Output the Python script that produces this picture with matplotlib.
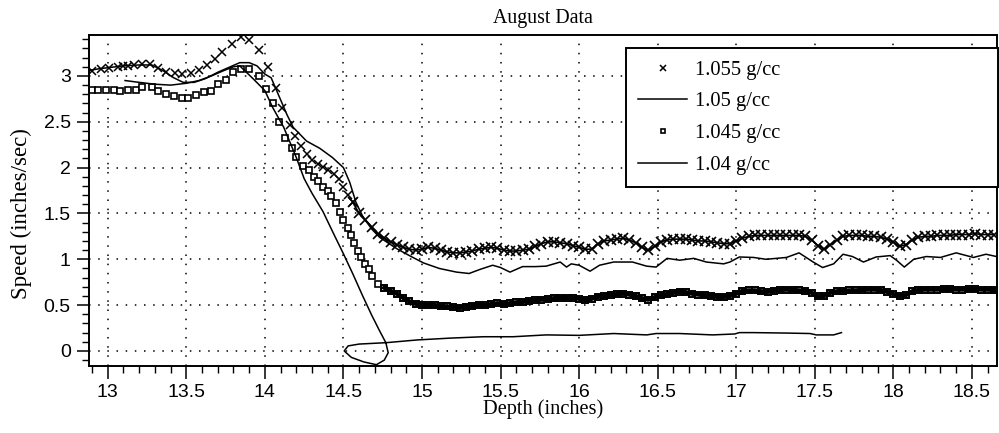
import matplotlib

matplotlib.use("Agg")
import matplotlib.pyplot as plt
from matplotlib.ticker import MultipleLocator

# 1.055 g/cc (x markers): sparse early part, then dense plateau
d1055_a = [12.90, 12.955, 13.01, 13.066, 13.10, 13.13, 13.17, 13.22, 13.27, 13.32,
           13.37, 13.43, 13.475, 13.53, 13.58, 13.63, 13.68, 13.73, 13.79, 13.85,
           13.90, 13.96, 14.02, 14.07, 14.11, 14.16, 14.19, 14.23, 14.27, 14.30,
           14.34, 14.37, 14.40, 14.44, 14.47, 14.50, 14.53, 14.56]
s1055_a = [3.05, 3.08, 3.09, 3.10, 3.11, 3.11, 3.12, 3.13, 3.13, 3.09,
           3.04, 3.03, 3.02, 3.03, 3.07, 3.12, 3.18, 3.26, 3.35, 3.42,
           3.39, 3.28, 3.10, 2.87, 2.645, 2.46, 2.35, 2.24, 2.15, 2.08,
           2.04, 2.01, 1.975, 1.93, 1.88, 1.79, 1.70, 1.62]
d1055_b = [14.56, 14.60, 14.64, 14.68, 14.72, 14.76, 14.80, 14.84, 14.88, 14.92, 14.96,
           15.00, 15.04, 15.08, 15.12, 15.16, 15.20, 15.24, 15.28, 15.32, 15.36,
           15.40, 15.44, 15.48, 15.52, 15.56, 15.60, 15.64, 15.68, 15.72, 15.76,
           15.80, 15.84, 15.88, 15.92, 15.96, 16.00, 16.04, 16.08, 16.12, 16.16,
           16.20, 16.24, 16.28, 16.32, 16.36, 16.40, 16.44, 16.48, 16.52, 16.56,
           16.60, 16.64, 16.68, 16.72, 16.76, 16.80, 16.84, 16.88, 16.92, 16.96,
           17.00, 17.04, 17.08, 17.12, 17.16, 17.20, 17.24, 17.28, 17.32, 17.36,
           17.40, 17.44, 17.48, 17.52, 17.56, 17.60, 17.64, 17.68, 17.72, 17.76,
           17.80, 17.84, 17.88, 17.92, 17.96, 18.00, 18.04, 18.08, 18.12, 18.16,
           18.20, 18.24, 18.28, 18.32, 18.36, 18.40, 18.44, 18.48, 18.52, 18.56,
           18.60, 18.64]
s1055_b = [1.62, 1.50, 1.43, 1.35, 1.28, 1.23, 1.19, 1.16, 1.13, 1.11, 1.10,
           1.11, 1.13, 1.12, 1.10, 1.08, 1.07, 1.07, 1.08, 1.09, 1.11,
           1.12, 1.13, 1.12, 1.10, 1.09, 1.09, 1.10, 1.11, 1.14, 1.17,
           1.19, 1.19, 1.18, 1.17, 1.15, 1.13, 1.11, 1.11, 1.17, 1.20,
           1.21, 1.22, 1.23, 1.21, 1.18, 1.13, 1.10, 1.14, 1.19, 1.21,
           1.22, 1.22, 1.22, 1.21, 1.20, 1.20, 1.19, 1.18, 1.17, 1.17,
           1.20, 1.23, 1.25, 1.26, 1.26, 1.26, 1.26, 1.26, 1.26, 1.26,
           1.26, 1.25, 1.21, 1.15, 1.11, 1.16, 1.21, 1.25, 1.26, 1.26,
           1.26, 1.25, 1.25, 1.24, 1.22, 1.19, 1.14, 1.16, 1.21, 1.24,
           1.25, 1.25, 1.26, 1.26, 1.26, 1.27, 1.27, 1.27, 1.28, 1.27,
           1.27, 1.27]

# 1.05 g/cc (solid line)
d1050 = [12.88, 12.95, 13.00, 13.10, 13.20, 13.28, 13.35, 13.42, 13.48, 13.55,
         13.62, 13.70, 13.78, 13.84, 13.90, 13.95, 14.00, 14.04, 14.095, 14.14,
         14.18, 14.265, 14.35, 14.43, 14.50, 14.54, 14.58, 14.625, 14.68, 14.73,
         14.84, 14.92, 15.01, 15.11, 15.22, 15.30, 15.37, 15.45, 15.50, 15.56,
         15.64, 15.72, 15.79, 15.88, 15.92, 15.95, 16.00, 16.07, 16.13, 16.22,
         16.34, 16.43, 16.49, 16.56, 16.64, 16.73, 16.81, 16.92, 16.96, 17.02,
         17.11, 17.19, 17.32, 17.40, 17.49, 17.55, 17.62, 17.68, 17.74, 17.81,
         17.89, 17.98, 18.02, 18.07, 18.13, 18.21, 18.30, 18.40, 18.51, 18.59,
         18.67]
s1050 = [3.06, 3.08, 3.09, 3.11, 3.12, 3.12, 3.06, 2.98, 2.93, 2.93,
         2.97, 3.04, 3.10, 3.145, 3.145, 3.11, 3.02, 2.98, 2.76, 2.58,
         2.44, 2.29, 2.21, 2.11, 2.00, 1.84, 1.62, 1.46, 1.33, 1.24,
         1.115, 1.04, 0.96, 0.90, 0.86, 0.845, 0.89, 0.935, 0.91, 0.86,
         0.92, 0.92, 0.925, 0.97, 0.915, 0.95, 0.935, 0.87, 0.935, 0.97,
         0.97, 0.925, 0.915, 1.01, 0.99, 1.01, 0.97, 0.95, 0.97, 1.025,
         1.02, 1.00, 1.02, 1.07, 0.97, 0.91, 0.95, 1.055, 1.03, 0.97,
         1.025, 1.04, 0.99, 0.915, 1.00, 1.03, 1.02, 1.07, 1.02, 1.055,
         1.025]

# 1.045 g/cc (square markers): sparse early part, then dense plateau
d1045_a = [12.90, 12.94, 12.99, 13.04, 13.08, 13.13, 13.18, 13.22, 13.28, 13.32,
           13.37, 13.42, 13.47, 13.51, 13.56, 13.61, 13.66, 13.70, 13.75, 13.80,
           13.85, 13.90, 13.96, 14.01, 14.05, 14.09, 14.13, 14.17, 14.20, 14.24,
           14.28, 14.31, 14.34, 14.37, 14.40, 14.42, 14.45, 14.48, 14.50, 14.53,
           14.55, 14.57, 14.59, 14.61, 14.64, 14.66, 14.685, 14.72]
s1045_a = [2.845, 2.845, 2.845, 2.845, 2.84, 2.845, 2.85, 2.88, 2.88, 2.84,
           2.80, 2.78, 2.755, 2.755, 2.79, 2.82, 2.84, 2.91, 2.96, 3.04,
           3.08, 3.08, 3.00, 2.855, 2.70, 2.50, 2.32, 2.21, 2.12, 2.02,
           1.97, 1.90, 1.85, 1.79, 1.74, 1.685, 1.61, 1.52, 1.43, 1.34,
           1.26, 1.18, 1.09, 1.02, 0.945, 0.89, 0.815, 0.735]
d1045_b = [14.76, 14.80, 14.84, 14.88, 14.92, 14.96, 15.00, 15.04, 15.08, 15.12,
           15.16, 15.20, 15.24, 15.28, 15.32, 15.36, 15.40, 15.44, 15.48, 15.52,
           15.56, 15.60, 15.64, 15.68, 15.72, 15.76, 15.80, 15.84, 15.88, 15.92,
           15.96, 16.00, 16.04, 16.08, 16.12, 16.16, 16.20, 16.24, 16.28, 16.32,
           16.36, 16.40, 16.44, 16.48, 16.52, 16.56, 16.60, 16.64, 16.68, 16.72,
           16.76, 16.80, 16.84, 16.88, 16.92, 16.96, 17.00, 17.04, 17.08, 17.12,
           17.16, 17.20, 17.24, 17.28, 17.32, 17.36, 17.40, 17.44, 17.48, 17.52,
           17.56, 17.60, 17.64, 17.68, 17.72, 17.76, 17.80, 17.84, 17.88, 17.92,
           17.96, 18.00, 18.04, 18.08, 18.12, 18.16, 18.20, 18.24, 18.28, 18.32,
           18.36, 18.40, 18.44, 18.48, 18.52, 18.56, 18.60, 18.64]
s1045_b = [0.69, 0.655, 0.625, 0.58, 0.54, 0.515, 0.50, 0.50, 0.50, 0.49,
           0.485, 0.48, 0.47, 0.48, 0.49, 0.50, 0.50, 0.51, 0.52, 0.51,
           0.52, 0.53, 0.535, 0.545, 0.555, 0.56, 0.565, 0.575, 0.58, 0.58,
           0.58, 0.57, 0.555, 0.57, 0.59, 0.60, 0.61, 0.62, 0.625, 0.615,
           0.60, 0.575, 0.56, 0.585, 0.61, 0.62, 0.635, 0.645, 0.64, 0.625,
           0.615, 0.61, 0.60, 0.59, 0.59, 0.60, 0.625, 0.655, 0.66, 0.66,
           0.65, 0.645, 0.655, 0.665, 0.67, 0.665, 0.66, 0.655, 0.635, 0.595,
           0.60, 0.635, 0.65, 0.655, 0.66, 0.66, 0.665, 0.67, 0.67, 0.665,
           0.645, 0.62, 0.60, 0.61, 0.65, 0.665, 0.67, 0.67, 0.67, 0.675,
           0.675, 0.67, 0.67, 0.675, 0.675, 0.67, 0.67, 0.665]

# 1.04 g/cc (solid line, loops back near zero)
d1040 = [13.11, 13.20, 13.30, 13.40, 13.50, 13.58, 13.66, 13.74, 13.80, 13.84,
         13.925, 14.00, 14.05, 14.12, 14.20, 14.25, 14.30, 14.37, 14.44, 14.50,
         14.56, 14.62, 14.68, 14.73, 14.77, 14.785, 14.76, 14.71, 14.63, 14.55,
         14.505, 14.53, 14.60, 14.77, 14.97, 15.18, 15.39, 15.58, 15.79, 16.00,
         16.22, 16.43, 16.49, 16.64, 16.85, 16.99, 17.02, 17.11, 17.32, 17.47,
         17.51, 17.62, 17.67]
s1040 = [2.95, 2.93, 2.91, 2.90, 2.92, 2.95, 3.00, 3.06, 3.10, 3.11,
         2.97, 2.84, 2.655, 2.44, 2.11, 1.88, 1.72, 1.52, 1.27, 1.06,
         0.84, 0.61, 0.39, 0.22, 0.09, -0.02, -0.10, -0.15, -0.12, -0.07,
         0.00, 0.055, 0.075, 0.09, 0.12, 0.14, 0.155, 0.155, 0.175, 0.17,
         0.19, 0.175, 0.19, 0.19, 0.175, 0.185, 0.20, 0.20, 0.195, 0.19,
         0.175, 0.175, 0.20]

labels = ["1.055 g/cc", "1.05 g/cc", "1.045 g/cc", "1.04 g/cc"]

SERIF = "Liberation Serif"
SANS = "Liberation Sans"


def main() -> None:
    fig = plt.figure(figsize=(9.99, 4.33), dpi=100)
    ax = fig.add_axes([0.089, 0.155, 0.909, 0.764])

    ax.plot(d1055_a, s1055_a, linestyle="none", marker="x", color="black",
            markersize=5.5, markeredgewidth=1.1, label=labels[0])
    # dense stretch: samples crowd together into a band
    ax.plot(d1055_b, s1055_b, linestyle="-", linewidth=1.2, marker="x", color="black",
            markersize=6.5, markeredgewidth=1.2)
    ax.plot(d1050, s1050, color="black", linewidth=1.1, label=labels[1])
    ax.plot(d1045_a, s1045_a, linestyle="none", marker="s", markerfacecolor="white",
            markeredgecolor="black", markersize=4.2, markeredgewidth=1.2, label=labels[2])
    ax.plot(d1045_b, s1045_b, linestyle="-", linewidth=3.2, color="black", marker="s",
            markerfacecolor="none", markeredgecolor="black", markersize=4.4, markeredgewidth=1.4)
    ax.plot(d1040, s1040, color="black", linewidth=1.1, label=labels[3])

    ax.set_xlim(12.88, 18.66)
    ax.set_ylim(-0.163, 3.446)
    ax.xaxis.set_major_locator(MultipleLocator(0.5))
    ax.xaxis.set_minor_locator(MultipleLocator(0.1))
    ax.yaxis.set_major_locator(MultipleLocator(0.5))
    ax.yaxis.set_minor_locator(MultipleLocator(0.1))
    ax.xaxis.set_major_formatter(lambda v, _: f"{v:g}")
    ax.yaxis.set_major_formatter(lambda v, _: f"{v:g}")
    ax.tick_params(which="major", direction="out", length=9, width=1.1, labelsize=14, pad=4)
    ax.tick_params(which="minor", direction="out", length=5, width=1.0)
    for lab in ax.get_xticklabels() + ax.get_yticklabels():
        lab.set_family(SANS)
    for spine in ax.spines.values():
        spine.set_linewidth(1.4)

    ax.grid(which="major", color="black", linestyle=(0, (1, 5)), linewidth=1.1)

    ax.set_title("August Data", family=SERIF, fontsize=14.3, pad=9)
    ax.set_xlabel("Depth (inches)", family=SERIF, fontsize=14.7, labelpad=-1)
    ax.set_ylabel("Speed (inches/sec)", family=SERIF, fontsize=16.5)
    ax.yaxis.set_label_coords(-0.063, 0.46)

    leg = ax.legend(
        loc="upper left",
        bbox_to_anchor=(0.591, 0.553, 0.41, 0.408),
        mode="expand",
        prop={"family": SERIF, "size": 14.8},
        frameon=True,
        fancybox=False,
        edgecolor="black",
        framealpha=1.0,
        markerscale=0.7,
        handlelength=2.4,
        handletextpad=0.4,
        labelspacing=0.6,
        borderpad=0.6,
        borderaxespad=0.0,
    )
    leg.get_frame().set_linewidth(1.4)

    fig.savefig("out.png", dpi=100)
    plt.close(fig)


if __name__ == "__main__":
    main()
